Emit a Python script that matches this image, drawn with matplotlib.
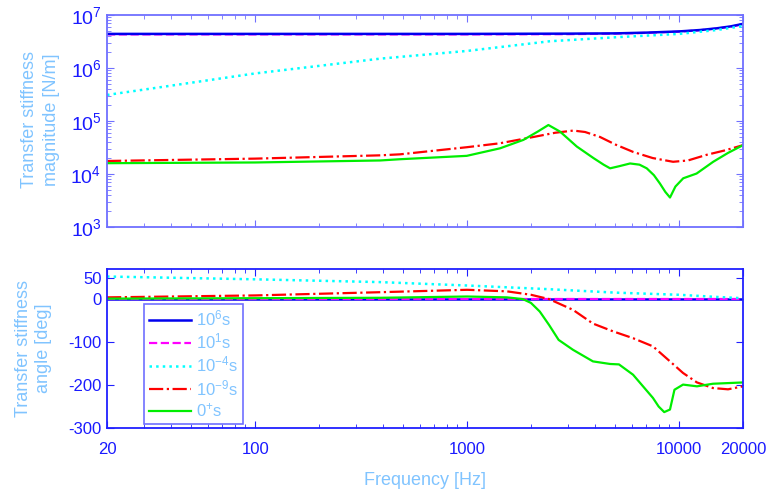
import numpy as np
import matplotlib
matplotlib.use("Agg")
import matplotlib.pyplot as plt
from matplotlib import ticker

plt.rcParams['font.family'] = ['Liberation Sans', 'DejaVu Sans']
plt.rcParams['mathtext.fontset'] = 'custom'
plt.rcParams['mathtext.rm'] = 'Liberation Sans'
plt.rcParams['mathtext.it'] = 'Liberation Sans:italic'
plt.rcParams['mathtext.bf'] = 'Liberation Sans:bold'
plt.rcParams['axes.unicode_minus'] = False

# ---- data ----
# magnitude [N/m]
f_flat = [20, 100, 1000, 3000, 5000, 7000, 10000, 12500, 15000, 17500, 20000]
mag_1e6 = [4.4e6, 4.4e6, 4.4e6, 4.45e6, 4.5e6, 4.65e6, 4.9e6, 5.2e6, 5.6e6, 6.1e6, 6.8e6]
mag_1e1 = [4.3e6, 4.3e6, 4.3e6, 4.35e6, 4.45e6, 4.6e6, 4.85e6, 5.15e6, 5.55e6, 6.0e6, 6.7e6]

f_cyan = [20, 100, 388, 1000, 2460, 5000, 10000, 15000, 20000]
mag_1e4 = [3.1e5, 7.9e5, 1.5e6, 2.1e6, 3.2e6, 3.8e6, 4.4e6, 5.2e6, 6.2e6]

f_red = [20, 100, 388, 482, 995, 1428, 2056, 2600, 3170, 3600, 4230, 5000, 6080,
         7500, 9360, 11000, 13470, 16500, 20000]
mag_1e9 = [1.76e4, 1.95e4, 2.25e4, 2.35e4, 3.2e4, 3.8e4, 5.0e4, 6.0e4, 6.6e4, 6.2e4,
           5.0e4, 3.6e4, 2.6e4, 2.0e4, 1.7e4, 1.8e4, 2.3e4, 2.8e4, 3.5e4]

f_green = [20, 100, 388, 482, 995, 1428, 1841, 2150, 2416, 2743, 3288, 3940, 4400,
           4722, 5200, 5867, 6500, 7030, 7600, 8115, 8600, 9050, 9600, 10450, 12080,
           14470, 17000, 20000]
mag_0p = [1.6e4, 1.65e4, 1.8e4, 1.9e4, 2.2e4, 3.05e4, 4.4e4, 6.3e4, 8.4e4, 6.3e4,
          3.3e4, 2.0e4, 1.5e4, 1.28e4, 1.4e4, 1.58e4, 1.5e4, 1.28e4, 9.5e3, 6.6e3,
          4.6e3, 3.6e3, 5.8e3, 8.3e3, 1.02e4, 1.7e4, 2.5e4, 3.5e4]

# angle [deg]
ang_1e6 = [0, 0, 0, 0, 0, 0, 0, 0, 0, 0, 0]
ang_1e1 = [0, 0, 0, 0, 0, 0, 0, 0, 0, 0, 0]
f_cyan_a = [20, 100, 388, 1000, 2432, 5000, 10000, 15000, 20000]
ang_1e4 = [52.5, 46, 39.5, 31.6, 23, 15, 10, 5, 2]
f_red_a = [20, 100, 388, 1000, 1540, 2000, 2432, 3155, 3920, 4870, 6060, 7520,
           9050, 10430, 12130, 14430, 17000, 20000]
ang_1e9 = [4, 8.5, 16, 21.6, 18, 10, 0, -25, -57, -75, -91, -110, -145, -172,
           -194, -207, -210, -203]
f_green_a = [20, 388, 1000, 1540, 1830, 2000, 2200, 2432, 2700, 3155, 3920, 4720,
             5200, 6060, 7520, 8000, 8500, 9050, 9500, 10430, 12130, 14430, 20000]
ang_0p = [1, 3, 6, 4, 0, -9, -29, -60, -95, -118, -145, -151, -152, -176, -230,
          -250, -263, -257, -211, -199, -203, -197, -194]

labels = [r'$10^6$s', r'$10^1$s', r'$10^{-4}$s', r'$10^{-9}$s', r'$0^{+}$s']

TICK_C = '#1a1aff'
LAB_C = '#80c4ff'

fig = plt.figure(figsize=(7.67, 4.92), dpi=100)
ax1 = fig.add_axes([107 / 767, 1 - 227 / 492, 636 / 767, 212 / 492])
ax2 = fig.add_axes([107 / 767, 1 - 428 / 492, 636 / 767, 159 / 492])

ax1.loglog(f_flat, mag_1e1, color='#ff00ff', ls='--', lw=1.6)
ax1.loglog(f_flat, mag_1e6, color='#0000ee', ls='-', lw=1.8)
ax1.loglog(f_cyan, mag_1e4, color='#00ffff', ls=':', lw=1.8)
ax1.loglog(f_red, mag_1e9, color='#ff0000', ls='-.', lw=1.6)
ax1.loglog(f_green, mag_0p, color='#00ee00', ls='-', lw=1.6)
ax1.set_xlim(20, 20000)
ax1.set_ylim(1e3, 1e7)
ax1.set_xticks([20, 100, 1000, 10000, 20000])
ax1.set_xticklabels([])
ax1.set_ylabel('Transfer stiffness\nmagnitude [N/m]', color=LAB_C, fontsize=13,
               linespacing=1.35)
ax1.yaxis.set_label_coords(-0.074, 0.505)

l1, = ax2.semilogx(f_flat, ang_1e6, color='#0000ee', ls='-', lw=1.8)
l2, = ax2.semilogx(f_flat, ang_1e1, color='#ff00ff', ls='--', lw=1.6)
l3, = ax2.semilogx(f_cyan_a, ang_1e4, color='#00ffff', ls=':', lw=1.8)
l4, = ax2.semilogx(f_red_a, ang_1e9, color='#ff0000', ls='-.', lw=1.6)
l5, = ax2.semilogx(f_green_a, ang_0p, color='#00ee00', ls='-', lw=1.6)
ax2.set_xlim(20, 20000)
ax2.set_ylim(-300, 70)
ax2.set_yticks([-300, -200, -100, 0, 50])
ax2.set_xticks([20, 100, 1000, 10000, 20000])
ax2.set_xticklabels(['20', '100', '1000', '10000', '20000'])
ax2.set_ylabel('Transfer stiffness\nangle [deg]', color=LAB_C, fontsize=13,
               linespacing=1.25)
ax2.yaxis.set_label_coords(-0.0865, 0.503)
ax2.set_xlabel('Frequency [Hz]', color=LAB_C, fontsize=13)
ax2.xaxis.set_label_coords(0.5, -0.275)

leg = ax2.legend([l1, l2, l3, l4, l5], labels, loc='upper left',
                 bbox_to_anchor=(0.058, 0.783), fontsize=12, frameon=True,
                 fancybox=False, framealpha=1, handlelength=2.5,
                 handletextpad=0.3, labelspacing=0.2, borderpad=0.3,
                 borderaxespad=0)
leg.get_frame().set_edgecolor('#7070ff')
leg.get_frame().set_linewidth(1.2)
for t in leg.get_texts():
    t.set_color(LAB_C)

for ax, sc in ((ax1, '#7070ff'), (ax2, '#2020ff')):
    for s in ax.spines.values():
        s.set_color(sc)
        s.set_linewidth(1.3)
    ax.tick_params(which='both', direction='in', top=True, right=True,
                   colors=sc, labelcolor=TICK_C)
    ax.tick_params(which='major', length=5)
    ax.tick_params(which='minor', length=3)
    ax.xaxis.set_minor_formatter(ticker.NullFormatter())

ax1.tick_params(axis='y', labelsize=14, pad=4)
ax2.tick_params(axis='y', labelsize=12, pad=4)
ax2.tick_params(axis='x', labelsize=12, pad=10)

fig.savefig('out.png', dpi=100)
